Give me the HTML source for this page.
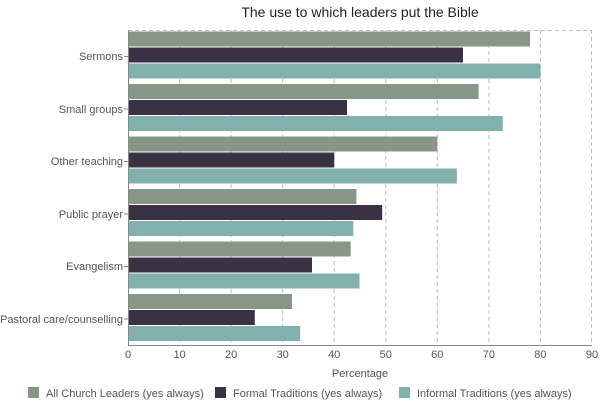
<!DOCTYPE html>
<html><head><style>body{margin:0;background:#fff}</style></head><body>
<svg width="600" height="400" xmlns="http://www.w3.org/2000/svg" font-family="Liberation Sans, sans-serif">
<rect width="600" height="400" fill="#fff"/>
<text x="360" y="17" text-anchor="middle" font-size="14" fill="#222">The use to which leaders put the Bible</text>
<g stroke="#bbb" stroke-dasharray="4,3" stroke-width="1">
<line x1="128" y1="30.5" x2="592" y2="30.5"/>
<line x1="179.6" y1="30" x2="179.6" y2="345"/><line x1="231.1" y1="30" x2="231.1" y2="345"/>
<line x1="282.7" y1="30" x2="282.7" y2="345"/><line x1="334.2" y1="30" x2="334.2" y2="345"/>
<line x1="385.8" y1="30" x2="385.8" y2="345"/><line x1="437.3" y1="30" x2="437.3" y2="345"/>
<line x1="488.9" y1="30" x2="488.9" y2="345"/><line x1="540.4" y1="30" x2="540.4" y2="345"/>
<line x1="591.5" y1="30" x2="591.5" y2="345"/>
</g>
<g id="bars">
<rect x="128" y="31.5" width="402" height="15" fill="#879787"/>
<rect x="128" y="47.5" width="335" height="15" fill="#3b3144"/>
<rect x="128" y="63.5" width="412.4" height="15" fill="#82b1ad"/>
<rect x="128" y="84" width="350.6" height="15" fill="#879787"/>
<rect x="128" y="100" width="219" height="15" fill="#3b3144"/>
<rect x="128" y="116" width="374.8" height="15" fill="#82b1ad"/>
<rect x="128" y="136.5" width="309.3" height="15" fill="#879787"/>
<rect x="128" y="152.5" width="206.2" height="15" fill="#3b3144"/>
<rect x="128" y="168.5" width="328.9" height="15" fill="#82b1ad"/>
<rect x="128" y="189" width="228.4" height="15" fill="#879787"/>
<rect x="128" y="205" width="254.2" height="15" fill="#3b3144"/>
<rect x="128" y="221" width="225.3" height="15" fill="#82b1ad"/>
<rect x="128" y="241.5" width="222.7" height="15" fill="#879787"/>
<rect x="128" y="257.5" width="184" height="15" fill="#3b3144"/>
<rect x="128" y="273.5" width="231.5" height="15" fill="#82b1ad"/>
<rect x="128" y="294" width="164" height="15" fill="#879787"/>
<rect x="128" y="310" width="126.8" height="15" fill="#3b3144"/>
<rect x="128" y="326" width="172.2" height="15" fill="#82b1ad"/>
</g>
<g stroke="#888" stroke-width="1">
<line x1="128.5" y1="30" x2="128.5" y2="345"/>
<line x1="128" y1="345.5" x2="592" y2="345.5"/>
<line x1="124" y1="56.5" x2="128" y2="56.5"/><line x1="124" y1="109" x2="128" y2="109"/>
<line x1="124" y1="161.5" x2="128" y2="161.5"/><line x1="124" y1="214" x2="128" y2="214"/>
<line x1="124" y1="266.5" x2="128" y2="266.5"/><line x1="124" y1="319" x2="128" y2="319"/>
</g>
<g font-size="11" fill="#555" text-anchor="end">
<text x="123" y="60">Sermons</text><text x="123" y="113">Small groups</text>
<text x="123" y="165">Other teaching</text><text x="123" y="218">Public prayer</text>
<text x="123" y="270">Evangelism</text><text x="123" y="323">Pastoral care/counselling</text>
</g>
<g font-size="11" fill="#555" text-anchor="middle">
<text x="128" y="358">0</text><text x="179.6" y="358">10</text><text x="231.1" y="358">20</text>
<text x="282.7" y="358">30</text><text x="334.2" y="358">40</text><text x="385.8" y="358">50</text>
<text x="437.3" y="358">60</text><text x="488.9" y="358">70</text><text x="540.4" y="358">80</text>
<text x="592" y="358">90</text>
<text x="360" y="377">Percentage</text>
</g>
<g font-size="11" fill="#555">
<rect x="28" y="387" width="11" height="11" fill="#879787"/><text x="46" y="397">All Church Leaders (yes always)</text>
<rect x="215" y="387" width="11" height="11" fill="#3b3144"/><text x="233" y="397">Formal Traditions  (yes always)</text>
<rect x="399" y="387" width="11" height="11" fill="#82b1ad"/><text x="417" y="397">Informal Traditions  (yes always)</text>
</g>
</svg>
</body></html>
